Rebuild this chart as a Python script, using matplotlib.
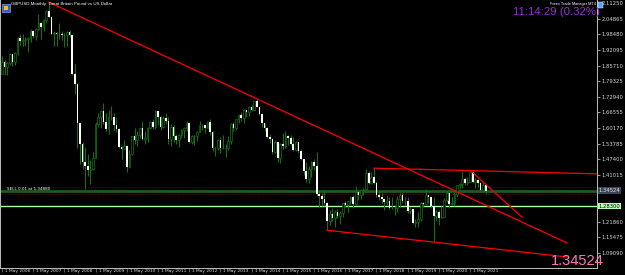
import matplotlib
matplotlib.use('Agg')
import matplotlib.pyplot as plt
from matplotlib.patches import Rectangle
import numpy as np

# GBPUSD monthly bars, May 2006 .. Nov 2021 (opens are the previous close)
first_open = 1.824
closes = [
    1.870, 1.849, 1.868, 1.904, 1.872, 1.908, 1.970, 1.958,
    1.962, 1.965, 1.968, 2.000, 1.979, 2.006, 2.031, 2.013, 2.043, 2.080, 2.057, 1.985,
    1.988, 1.987, 1.985, 1.982, 1.980, 1.993, 1.980, 1.822, 1.782, 1.623, 1.538, 1.462,
    1.448, 1.432, 1.433, 1.480, 1.617, 1.646, 1.670, 1.628, 1.599, 1.647, 1.645, 1.615,
    1.598, 1.523, 1.517, 1.530, 1.444, 1.495, 1.569, 1.551, 1.572, 1.601, 1.556, 1.561,
    1.603, 1.626, 1.604, 1.670, 1.645, 1.606, 1.643, 1.632, 1.558, 1.607, 1.570, 1.554,
    1.573, 1.592, 1.600, 1.623, 1.543, 1.568, 1.568, 1.586, 1.616, 1.612, 1.602, 1.625,
    1.586, 1.518, 1.519, 1.553, 1.520, 1.521, 1.521, 1.549, 1.619, 1.603, 1.637, 1.656,
    1.643, 1.675, 1.667, 1.688, 1.675, 1.711, 1.688, 1.660, 1.622, 1.600, 1.564, 1.558,
    1.503, 1.543, 1.481, 1.535, 1.528, 1.571, 1.562, 1.538, 1.513, 1.543, 1.506, 1.474,
    1.425, 1.392, 1.436, 1.461, 1.448, 1.331, 1.322, 1.313, 1.297, 1.220, 1.251, 1.234,
    1.258, 1.241, 1.255, 1.294, 1.289, 1.302, 1.320, 1.293, 1.340, 1.328, 1.350, 1.351,
    1.419, 1.377, 1.402, 1.376, 1.330, 1.320, 1.313, 1.300, 1.304, 1.276, 1.275, 1.275,
    1.311, 1.326, 1.303, 1.303, 1.262, 1.270, 1.215, 1.216, 1.229, 1.294, 1.293, 1.326,
    1.319, 1.282, 1.242, 1.259, 1.235, 1.240, 1.309, 1.336, 1.291, 1.296, 1.334, 1.367,
    1.371, 1.393, 1.378, 1.383, 1.423, 1.383, 1.390, 1.375, 1.347, 1.368, 1.345,
]
highs = [
    1.895, 1.878, 1.871, 1.910, 1.905, 1.913, 1.974, 1.985,
    1.985, 1.975, 1.973, 2.008, 2.001, 2.009, 2.066, 2.034, 2.046, 2.083, 2.116, 2.060,
    1.999, 1.992, 2.030, 1.998, 1.989, 1.999, 2.004, 1.984, 1.863, 1.787, 1.626, 1.545,
    1.526, 1.497, 1.471, 1.502, 1.626, 1.662, 1.671, 1.704, 1.665, 1.674, 1.692, 1.665,
    1.646, 1.601, 1.527, 1.551, 1.532, 1.512, 1.571, 1.600, 1.588, 1.603, 1.629, 1.589,
    1.605, 1.630, 1.640, 1.675, 1.672, 1.652, 1.649, 1.665, 1.645, 1.617, 1.612, 1.577,
    1.577, 1.597, 1.605, 1.629, 1.628, 1.573, 1.575, 1.588, 1.631, 1.618, 1.615, 1.631,
    1.638, 1.588, 1.524, 1.558, 1.564, 1.575, 1.538, 1.571, 1.622, 1.626, 1.638, 1.660,
    1.668, 1.680, 1.677, 1.692, 1.696, 1.713, 1.719, 1.689, 1.664, 1.623, 1.605, 1.577,
    1.560, 1.552, 1.545, 1.542, 1.581, 1.589, 1.574, 1.574, 1.565, 1.550, 1.546, 1.515,
    1.476, 1.463, 1.446, 1.466, 1.474, 1.502, 1.348, 1.335, 1.350, 1.298, 1.267, 1.275,
    1.267, 1.270, 1.261, 1.297, 1.305, 1.303, 1.322, 1.326, 1.366, 1.341, 1.351, 1.355,
    1.436, 1.427, 1.424, 1.438, 1.384, 1.347, 1.336, 1.315, 1.330, 1.318, 1.318, 1.284,
    1.323, 1.335, 1.338, 1.320, 1.318, 1.278, 1.271, 1.230, 1.259, 1.301, 1.298, 1.351,
    1.328, 1.321, 1.320, 1.265, 1.266, 1.281, 1.317, 1.343, 1.348, 1.318, 1.340, 1.370,
    1.376, 1.424, 1.401, 1.401, 1.425, 1.425, 1.398, 1.393, 1.383, 1.383, 1.370,
]
lows = [
    1.822, 1.817, 1.818, 1.860, 1.857, 1.858, 1.900, 1.942,
    1.935, 1.937, 1.913, 1.955, 1.969, 1.963, 2.004, 1.966, 1.999, 2.030, 2.050, 1.980,
    1.937, 1.937, 1.967, 1.962, 1.934, 1.937, 1.975, 1.817, 1.741, 1.519, 1.456, 1.433,
    1.352, 1.404, 1.371, 1.431, 1.478, 1.605, 1.600, 1.618, 1.588, 1.576, 1.635, 1.590,
    1.584, 1.522, 1.476, 1.514, 1.423, 1.439, 1.491, 1.538, 1.528, 1.562, 1.553, 1.535,
    1.543, 1.597, 1.596, 1.599, 1.614, 1.594, 1.603, 1.618, 1.538, 1.530, 1.543, 1.537,
    1.523, 1.562, 1.560, 1.590, 1.541, 1.537, 1.534, 1.550, 1.584, 1.593, 1.583, 1.600,
    1.572, 1.508, 1.488, 1.510, 1.500, 1.515, 1.482, 1.512, 1.537, 1.589, 1.595, 1.623,
    1.630, 1.622, 1.646, 1.651, 1.673, 1.674, 1.686, 1.655, 1.606, 1.588, 1.559, 1.540,
    1.495, 1.500, 1.463, 1.457, 1.517, 1.519, 1.533, 1.532, 1.508, 1.508, 1.500, 1.473,
    1.408, 1.380, 1.379, 1.400, 1.431, 1.324, 1.280, 1.284, 1.284, 1.184, 1.206, 1.220,
    1.198, 1.234, 1.211, 1.237, 1.280, 1.259, 1.293, 1.274, 1.289, 1.307, 1.312, 1.330,
    1.349, 1.371, 1.373, 1.373, 1.320, 1.309, 1.296, 1.266, 1.287, 1.269, 1.272, 1.247,
    1.260, 1.277, 1.296, 1.288, 1.256, 1.251, 1.210, 1.196, 1.196, 1.220, 1.277, 1.290,
    1.295, 1.276, 1.141, 1.225, 1.206, 1.232, 1.238, 1.300, 1.276, 1.286, 1.285, 1.319,
    1.352, 1.356, 1.367, 1.367, 1.380, 1.379, 1.357, 1.360, 1.341, 1.345, 1.331,
]

# drawn objects (bar index, price)
trend_long = [(18, 2.1161), (217.3, 1.1318)]
trend_low = [(125, 1.184), (217.3, 1.0747)]
trend_top = [(143, 1.4377), (231, 1.4138)]
trend_steep = [(180.5, 1.425), (200, 1.237)]
support_level = 1.28300
bid_price = 1.34524
dotted_levels = [1.3607, 1.3321]

price_ticks = ['2.11250', '2.04865', '1.98480', '1.92095', '1.85710', '1.79325',
               '1.72940', '1.66555', '1.60170', '1.53785', '1.47400', '1.41015',
               '1.21860', '1.15475', '1.09090']
date_labels = ['1 May 2006', '1 May 2007', '1 May 2008', '1 May 2009', '1 May 2010',
               '1 May 2011', '1 May 2012', '1 May 2013', '1 May 2014', '1 May 2015',
               '1 May 2016', '1 May 2017', '1 May 2018', '1 May 2019', '1 May 2020',
               '1 May 2021']

closes = np.array(closes)
opens = np.concatenate([[first_open], closes[:-1]])
highs = np.maximum(np.array(highs), np.maximum(opens, closes))
lows = np.minimum(np.array(lows), np.minimum(opens, closes))
idx = np.arange(len(closes))

WICK = '#137013'
FG = '#d8d8d8'

fig = plt.figure(figsize=(6.25, 2.75), dpi=100, facecolor='black')
ax = fig.add_axes([0, 7 / 275, 597 / 625, 268 / 275], facecolor='black')

# levels behind the candles
ax.axhline(support_level, color='#a8ffa8', lw=1.0, zorder=1)
ax.axhline(bid_price, color='#1f5a1f', lw=2.0, zorder=1)
for lv in dotted_levels:
    ax.axhline(lv, color='#9a0000', lw=0.6, ls=(0, (1, 2)), zorder=1)

# candles
ax.vlines(idx, lows, highs, color=WICK, lw=0.75, zorder=2)
up = closes >= opens
dn = ~up
ax.bar(idx[dn], opens[dn] - closes[dn], bottom=closes[dn], width=0.65,
       color='white', linewidth=0, zorder=3)
ax.bar(idx[up], closes[up] - opens[up], bottom=opens[up], width=0.65,
       facecolor='black', edgecolor=WICK, linewidth=0.5, zorder=3)

# trend lines
for line in (trend_long, trend_low, trend_top, trend_steep):
    xs, ys = zip(*line)
    ax.plot(xs, ys, color='#ff0000', lw=0.9, zorder=4)

ax.set_xlim(-0.77, 228.8)
ax.set_ylim(1.02971, 2.12476)

# axes styling
ax.spines['top'].set_visible(False)
for s in ('left', 'right', 'bottom'):
    ax.spines[s].set_color('#bdbdbd')
    ax.spines[s].set_linewidth(0.7)

ax.yaxis.tick_right()
ax.set_yticks([float(t) for t in price_ticks])
ax.set_yticklabels(price_ticks)
ax.tick_params(axis='y', colors=FG, labelsize=3.8, length=2, width=0.5, pad=1)
ax.set_xticks([])
for i, lab in enumerate(date_labels):
    ax.text(i * 12, -0.004, '| ' + lab, transform=ax.get_xaxis_transform(),
            ha='left', va='top', fontsize=3.2, color=FG, clip_on=False)

# price boxes on the right axis
ax.text(1.003, support_level, '%.5f' % support_level, transform=ax.get_yaxis_transform(),
        ha='left', va='center', fontsize=3.8, color='black', clip_on=False,
        bbox=dict(boxstyle='square,pad=0.15', fc='#b4ffb4', ec='none'))
ax.text(1.003, bid_price, '%.5f' % bid_price, transform=ax.get_yaxis_transform(),
        ha='left', va='center', fontsize=3.8, color='#e0e0e0', clip_on=False,
        bbox=dict(boxstyle='square,pad=0.15', fc='#3a4656', ec='none'))

# chart texts
ax.text(2, 1.352, 'SELL 0.01 at 1.34880', fontsize=3, color='white', va='center')
fig.text(11 / 625, 1 - 4 / 275, 'GBPUSD,Monthly  Great Britain Pound vs US Dollar',
         fontsize=3.2, color='white', va='center', ha='left', family='Liberation Sans')
fig.text(596 / 625, 1 - 4 / 275, 'Forex Trade Manager MT4', fontsize=2.8, color='white',
         va='center', ha='right', family='Liberation Sans')
fig.text(600 / 625, 1 - 12 / 275, '11:14:29 (0.32%)', fontsize=8.2, color='#9a2ae0',
         va='center', ha='right', family='Liberation Sans')
fig.text(604 / 625, 1 - 261 / 275, '%.5f' % bid_price, fontsize=10.5, color='#ff78b4',
         va='center', ha='right', family='Liberation Sans')

# small window icons
fig.patches.append(Rectangle((2 / 625, 1 - 12 / 275), 8 / 625, 8 / 275,
                             transform=fig.transFigure, fc='#3a5fbf', ec='#9fb4ff', lw=0.4))
fig.patches.append(Rectangle((4 / 625, 1 - 10 / 275), 4 / 625, 4 / 275,
                             transform=fig.transFigure, fc='#f0c020', ec='none'))
fig.patches.append(Rectangle((598 / 625, 1 - 8 / 275), 5 / 625, 6 / 275,
                             transform=fig.transFigure, fc='#5aa0ff', ec='white', lw=0.3))

fig.savefig('out.png', dpi=100, facecolor='black')
